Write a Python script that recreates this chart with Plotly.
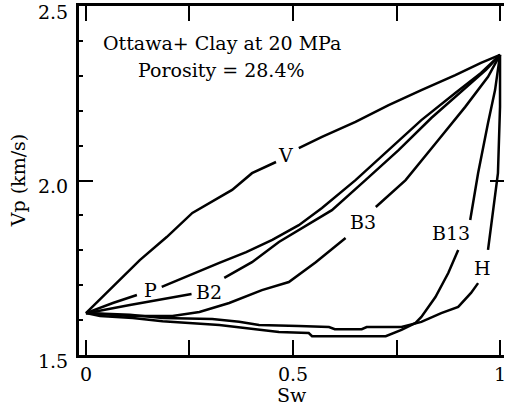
import plotly.graph_objects as go

# ---- data (Sw, Vp km/s); None marks the gap where the curve label sits ----
v_sw = [0.0, 0.065, 0.130, 0.195, 0.257, 0.353, 0.401, 0.459, None, 0.514, 0.570, 0.651, 0.731, 0.810, 0.892, 0.954, 1.0]
v_vp = [1.620, 1.695, 1.772, 1.838, 1.907, 1.973, 2.021, 2.053, None, 2.093, 2.125, 2.168, 2.216, 2.259, 2.302, 2.337, 2.360]

p_sw = [0.0, 0.065, 0.123, None, 0.183, 0.250, 0.322, 0.387, 0.450, 0.514, 0.570, 0.651, 0.731, 0.810, 0.892, 0.954, 1.0]
p_vp = [1.620, 1.649, 1.672, None, 1.695, 1.729, 1.764, 1.795, 1.830, 1.872, 1.921, 2.001, 2.087, 2.173, 2.251, 2.308, 2.360]

b2_sw = [0.0, 0.017, 0.106, 0.178, 0.255, None, 0.334, 0.401, 0.466, 0.514, 0.594, 0.675, 0.755, 0.834, 0.911, 0.966, 1.0]
b2_vp = [1.620, 1.623, 1.643, 1.658, 1.675, None, 1.721, 1.766, 1.824, 1.858, 1.915, 2.001, 2.087, 2.179, 2.259, 2.317, 2.360]

b3_sw = [0.0, 0.106, 0.209, 0.274, 0.346, 0.425, 0.490, 0.555, 0.627, None, 0.700, 0.772, 0.851, 0.916, 0.971, 1.0]
b3_vp = [1.620, 1.612, 1.612, 1.623, 1.649, 1.686, 1.709, 1.766, 1.835, None, 1.924, 2.001, 2.116, 2.211, 2.297, 2.360]

b13_sw = [0.0, 0.034, 0.113, 0.185, 0.322, 0.394, 0.466, 0.538, 0.546, 0.724, 0.762, 0.796, 0.810, 0.844, 0.875, 0.899, None,
          0.928, 0.940, 0.947, 0.971, 0.988, 1.0]
b13_vp = [1.620, 1.612, 1.606, 1.597, 1.586, 1.577, 1.566, 1.563, 1.554, 1.554, 1.572, 1.592, 1.609, 1.666, 1.735, 1.801, None,
          1.887, 1.973, 2.021, 2.165, 2.259, 2.360]

h_sw = [0.0, 0.058, 0.106, 0.185, 0.305, 0.370, 0.418, 0.514, 0.587, 0.601, 0.666, 0.678, 0.762, 0.810, 0.858, 0.899, 0.930, 0.947, None,
        0.971, 0.990, 0.995, 1.0, 1.0]
h_vp = [1.620, 1.617, 1.615, 1.606, 1.603, 1.595, 1.586, 1.583, 1.580, 1.574, 1.574, 1.580, 1.580, 1.595, 1.620, 1.638, 1.678, 1.706, None,
        1.801, 1.973, 2.021, 2.211, 2.360]

curve_names = ["V", "P", "B2", "B3", "B13", "H"]
label_sw = [0.483, 0.156, 0.296, 0.668, 0.882, 0.957]
label_vp = [2.073, 1.686, 1.681, 1.881, 1.850, 1.749]

x_tickvals = [0, 0.5, 1]
x_ticktext = ["0", "0.5", "1"]
y_tickvals = [1.5, 2.0, 2.5]
y_ticktext = ["1.5", "2.0", "2.5"]

FONT = "DejaVu Serif"
FS = 19
fig = go.Figure()
for xs, ys, nm in [(v_sw, v_vp, "V"), (p_sw, p_vp, "P"), (b2_sw, b2_vp, "B2"),
                   (b3_sw, b3_vp, "B3"), (b13_sw, b13_vp, "B13"), (h_sw, h_vp, "H")]:
    fig.add_trace(go.Scatter(x=xs, y=ys, mode="lines", name=nm, connectgaps=False,
                             line=dict(color="black", width=2.5), showlegend=False, hoverinfo="skip"))

# invisible trace to activate the right-hand axis (major ticks only)
fig.add_trace(go.Scatter(x=[None], y=[None], yaxis="y2", showlegend=False, hoverinfo="skip"))

for nm, lx, ly in zip(curve_names, label_sw, label_vp):
    fig.add_annotation(x=lx, y=ly, text=nm, showarrow=False, xref="x", yref="y",
                       font=dict(family=FONT, size=FS, color="black"))

fig.add_annotation(x=0.337, y=0.931, xref="paper", yref="paper", text="Ottawa+ Clay at 20 MPa",
                   showarrow=False, font=dict(family=FONT, size=FS, color="black"))
fig.add_annotation(x=0.335, y=0.854, xref="paper", yref="paper", text="Porosity = 28.4%",
                   showarrow=False, font=dict(family=FONT, size=FS, color="black"))
fig.add_annotation(x=0.501, y=-0.1146, xref="paper", yref="paper", text="Sw", yanchor="middle",
                   showarrow=False, font=dict(family=FONT, size=FS, color="black"))
fig.add_annotation(x=-0.143, y=0.4986, xref="paper", yref="paper", text="Vp (km/s)", textangle=-90,
                   xanchor="center", yanchor="middle",
                   showarrow=False, font=dict(family=FONT, size=FS, color="black"))

fig.update_layout(
    width=506, height=413,
    margin=dict(l=79, r=0, t=6, b=58),
    paper_bgcolor="white", plot_bgcolor="white",
    font=dict(family=FONT, size=FS, color="black"),
    xaxis=dict(range=[-0.0168, 1.0096], showgrid=False, zeroline=False,
               showline=True, linecolor="black", linewidth=3, mirror="allticks",
               ticks="inside", ticklen=15, tickwidth=2, tickcolor="black",
               tickvals=x_tickvals, ticktext=x_ticktext, ticklabelstandoff=0,
               ticklabeloverflow="allow",
               minor=dict(tickvals=[0.25, 0.75], ticks="inside", ticklen=3, tickwidth=2, tickcolor="black")),
    yaxis=dict(range=[1.5, 2.5], showgrid=False, zeroline=False,
               showline=True, linecolor="black", linewidth=3, mirror=False,
               ticks="inside", ticklen=14, tickwidth=2, tickcolor="black",
               tickvals=y_tickvals, ticktext=y_ticktext, ticklabelstandoff=4, ticklabelshift=6,
               ticklabeloverflow="allow",
               minor=dict(dtick=0.1, ticks="inside", ticklen=4, tickwidth=2, tickcolor="black")),
    yaxis2=dict(range=[1.5, 2.5], overlaying="y", side="right", showgrid=False, zeroline=False,
                showline=False, ticks="inside", ticklen=14, tickwidth=2, tickcolor="black",
                tickvals=y_tickvals, showticklabels=False),
)

fig.write_html("out.html")
